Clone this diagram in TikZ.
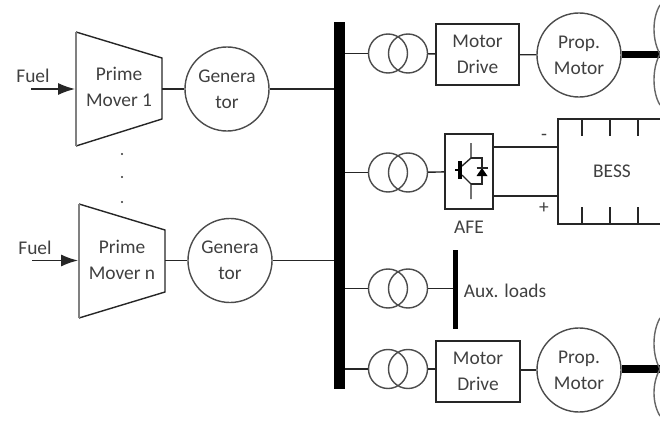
\documentclass[tikz,border=0pt]{standalone}
\usepackage{fontspec}
\setmainfont{Carlito}
\usetikzlibrary{arrows.meta}
\tikzset{
  wire/.style={line width=1pt,draw=black!85},
  label/.style={text=black!75,align=center,inner sep=0pt,font=\fontsize{13.8}{18.5}\selectfont},
  box/.style={wire,rectangle,inner sep=0pt},
  machine/.style={wire,circle,minimum size=2.1cm,inner sep=0pt,draw=black!70},
  winding/.style={wire,circle,minimum size=0.975cm,inner sep=0pt,draw=black!70},
  busbar/.style={rectangle,fill=black,inner sep=0pt},
  shaft/.style={line width=5pt,black},
  blade/.style={line width=1pt,draw=black!60},
  fuelarrow/.style={wire,-{Latex[length=12pt,width=8.5pt]}}
}
\begin{document}
\begin{tikzpicture}[x=0.025cm,y=-0.025cm]
  \useasboundingbox (0,0) rectangle (660,421);
  \clip (0,0) rectangle (660,421);
  % main bus
  \node (bus) at (339.5,205.5) [busbar,minimum width=0.275cm,minimum height=9.175cm] {};
  % prime movers
  \coordinate (fuela) at (31,89);
  \coordinate (pma) at (75,89);
  \coordinate (pmaout) at (162,89);
  \draw[wire] (76,32) -- (162,58) -- (162,119) -- (76,146);
  \draw[line width=1.4pt,black!50] (76,32) -- (76,146);
  \node (pmatxt) at (119,87) [label] {Prime\\Mover 1};
  \node (fuelatxt) at (33,76) [label] {Fuel};
  \draw[fuelarrow] (fuela) -- (pma);
  \coordinate (fuelb) at (32,260.5);
  \coordinate (pmb) at (78,260.5);
  \coordinate (pmbout) at (165,260.5);
  \draw[wire] (79,204) -- (165,230) -- (165,292) -- (79,318);
  \draw[line width=1.4pt,black!50] (79,204) -- (79,318);
  \node (pmbtxt) at (122,260) [label] {Prime\\Mover n};
  \node (fuelbtxt) at (35,248) [label] {Fuel};
  \draw[fuelarrow] (fuelb) -- (pmb);
  \fill[black!80] (122,154) circle (0.8pt);
  \fill[black!80] (122,177) circle (0.8pt);
  \fill[black!80] (122,202) circle (0.8pt);
  % generators
  \node (gena) at (227,89) [machine,label] {Genera\\tor};
  \node (genb) at (230,260.5) [machine,label] {Genera\\tor};
  \draw[wire] (pmaout) -- (gena);
  \draw[wire] (pmbout) -- (genb);
  \draw[wire] (gena) -- (gena -| bus.west);
  \draw[wire] (genb) -- (genb -| bus.west);
  % transformers
  \node (tra) at (388,53.5) [winding] {};
  \node (trap) at (408,53.5) [winding] {};
  \node (trb) at (388,172.5) [winding] {};
  \node (trbp) at (408,172.5) [winding] {};
  \node (trc) at (388,288.5) [winding] {};
  \node (trcp) at (408,288.5) [winding] {};
  \node (trd) at (388,369) [winding] {};
  \node (trdp) at (408,369) [winding] {};
  \draw[wire] (bus.east |- tra) -- (tra);
  \draw[wire] (bus.east |- trb) -- (trb);
  \draw[wire] (bus.east |- trc) -- (trc);
  \draw[wire] (bus.east |- trd) -- (trd);
  % top propulsion line
  \node (drivea) at (477.5,54.5) [box,label,minimum width=2.075cm,minimum height=1.525cm] {Motor\\Drive};
  \node (motora) at (579,55) [machine,label] {Prop.\\Motor};
  \coordinate (huba) at (660,54.5);
  \draw[wire] (trap) -- (drivea);
  \draw[wire] (drivea) -- (motora);
  \draw[shaft] (motora.east |- huba) -- (huba);
  \draw[blade] (660,5) .. controls (652,18) and (652,40) .. (660,54);
  \draw[blade] (660,54) .. controls (652,68) and (652,92) .. (660,105);
  % battery line
  \node (afe) at (469,171.5) [box,minimum width=1.2cm,minimum height=1.875cm] {};
  \node (afetxt) at (469,227) [label] {AFE};
  \node (bess) at (612,171.5) [box,label,minimum width=2.7cm,minimum height=2.625cm] {BESS};
  \coordinate (afeneg) at (493,147);
  \coordinate (afepos) at (493,196);
  \coordinate (bessneg) at (558,147);
  \coordinate (besspos) at (558,196);
  \draw[wire] (trbp) -- (afe);
  \draw[wire] (afeneg) -- (bessneg);
  \draw[wire] (afepos) -- (besspos);
  \node (negtxt) at (544,137) [label] {-};
  \node (postxt) at (544,208) [label] {+};
  \draw[wire] (582,119) -- (582,136);
  \draw[wire] (610,119) -- (610,136);
  \draw[wire] (638,119) -- (638,136);
  \draw[wire] (582,207) -- (582,224);
  \draw[wire] (610,207) -- (610,224);
  \draw[wire] (638,207) -- (638,224);
  % switch inside the AFE
  \draw[wire] (471,143) -- (471,158) -- (462,166);
  \draw[wire] (462,175) -- (471,184) -- (471,199);
  \draw[line width=2.2pt] (460,161) -- (460,179);
  \draw[line width=1.2pt] (455,170) -- (460,170);
  \draw[wire] (471,158) -- (482,158) -- (482,184) -- (471,184);
  \fill (476.5,176) -- (487.5,176) -- (482,168) -- cycle;
  \draw[wire] (476.5,168) -- (487.5,168);
  % auxiliary loads
  \node (auxbar) at (455.5,289.5) [busbar,minimum width=0.125cm,minimum height=1.975cm] {};
  \node (auxtxt) at (505,291) [label] {Aux. loads};
  \draw[wire] (trcp) -- (trcp -| auxbar.west);
  % bottom propulsion line
  \node (driveb) at (478,371.5) [box,label,minimum width=2.1cm,minimum height=1.525cm] {Motor\\Drive};
  \node (motorb) at (579,370) [machine,label] {Prop.\\Motor};
  \coordinate (hubb) at (660,369);
  \draw[wire] (trdp) -- (trdp -| driveb.west);
  \draw[wire] (driveb.east |- motorb) -- (motorb);
  \draw[shaft] (motorb.east |- hubb) -- (hubb);
  \draw[blade] (660,318) .. controls (652,332) and (652,355) .. (660,369);
  \draw[blade] (660,369) .. controls (652,383) and (652,403) .. (660,416);
\end{tikzpicture}
\end{document}
